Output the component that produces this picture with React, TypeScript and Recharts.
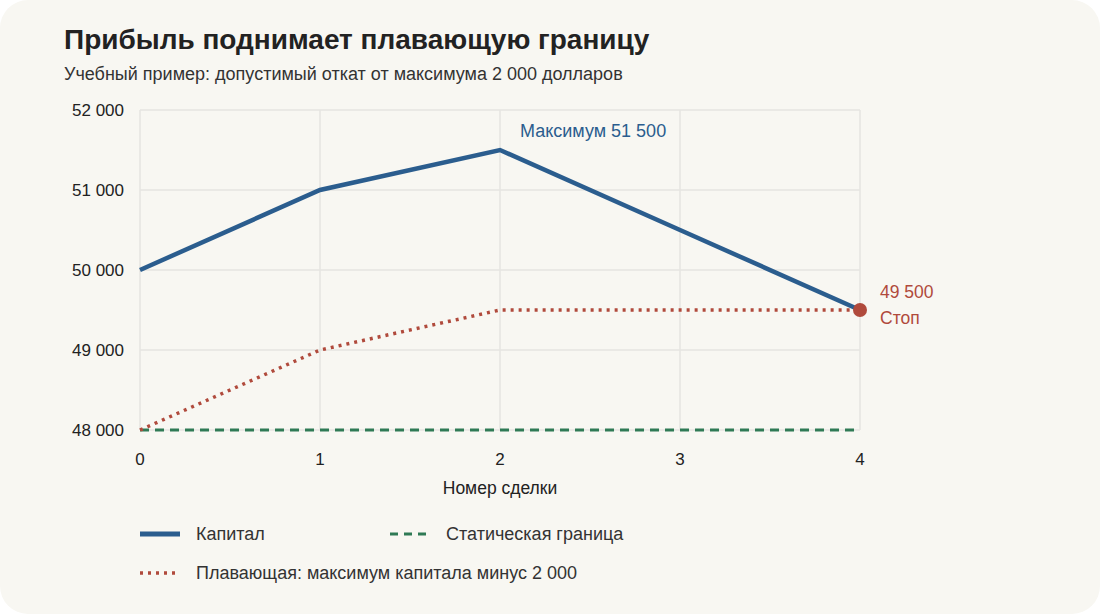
import { LineChart, Line, XAxis, YAxis, CartesianGrid, ReferenceDot } from 'recharts';

const trades = [0, 1, 2, 3, 4];
const capital = [50000, 51000, 51500, 50500, 49500];
const floating = [48000, 49000, 49500, 49500, 49500];
const staticLimit = [48000, 48000, 48000, 48000, 48000];
const yTicks = [48000, 49000, 50000, 51000, 52000];

const BLUE = '#2b5d8e';
const RED = '#b04a3c';
const GREEN = '#2f7a55';
const FONT = '"Liberation Sans", Arial, sans-serif';

const data = trades.map((t, i) => ({
  trade: t,
  capital: capital[i],
  floating: floating[i],
  staticLimit: staticLimit[i],
}));

const fmt = (v: number) => v.toLocaleString('en-US').replace(/,/g, ' ');

const LegendItem = ({ color, dash, width, label }: any) => (
  <div style={{ display: 'flex', alignItems: 'center' }}>
    <svg width={40} height={8} style={{ marginRight: 16 }}>
      <line x1={0} y1={4} x2={40} y2={4} stroke={color} strokeWidth={width} strokeDasharray={dash} />
    </svg>
    <span>{label}</span>
  </div>
);

const App = () => {
  return (
    <div
      style={{
        position: 'absolute',
        left: 0,
        top: 0,
        width: 1100,
        height: 614,
        background: '#ffffff',
        fontFamily: FONT,
      }}
    >
      <div
        style={{
          position: 'absolute',
          left: 0,
          top: 0,
          width: 1100,
          height: 614,
          background: '#f8f7f2',
          borderRadius: 28,
        }}
      />
      <div style={{ position: 'absolute', left: 64, top: 23, fontSize: 28, fontWeight: 700, color: '#222', lineHeight: '34px' }}>
        Прибыль поднимает плавающую границу
      </div>
      <div style={{ position: 'absolute', left: 64, top: 63, fontSize: 18, color: '#333', lineHeight: '22px' }}>
        Учебный пример: допустимый откат от максимума 2 000 долларов
      </div>
      <div style={{ position: 'absolute', left: 0, top: 0 }}>
        <LineChart width={1100} height={614} data={data} margin={{ top: 110, right: 240, bottom: 154, left: 60 }}>
          <CartesianGrid stroke="#e6e5e0" strokeWidth={1.5} />
          <XAxis
            dataKey="trade"
            type="number"
            domain={[0, 4]}
            ticks={trades}
            axisLine={false}
            tickLine={false}
            tickMargin={17}
            height={30}
            tick={{ fill: '#222', fontSize: 17, fontFamily: FONT }}
            label={{ value: 'Номер сделки', position: 'bottom', offset: 22, fill: '#222', fontSize: 17.5, fontFamily: FONT }}
          />
          <YAxis
            type="number"
            domain={[48000, 52000]}
            ticks={yTicks}
            width={80}
            axisLine={false}
            tickLine={false}
            tickMargin={10}
            tickFormatter={fmt}
            tick={{ fill: '#222', fontSize: 17, fontFamily: FONT }}
          />
          <Line
            dataKey="staticLimit"
            stroke={GREEN}
            strokeWidth={3}
            strokeDasharray="9 6"
            dot={false}
            isAnimationActive={false}
          />
          <Line
            dataKey="floating"
            stroke={RED}
            strokeWidth={3.5}
            strokeDasharray="3 5"
            dot={false}
            isAnimationActive={false}
          />
          <Line
            dataKey="capital"
            stroke={BLUE}
            strokeWidth={4.5}
            dot={false}
            isAnimationActive={false}
          />
          <ReferenceDot
            x={2}
            y={51500}
            r={0}
            fill="none"
            stroke="none"
            label={(props: any) => (
              <text x={props.viewBox.x + 20} y={props.viewBox.y - 13} fill={BLUE} fontSize={18} fontFamily={FONT}>
                Максимум 51 500
              </text>
            )}
          />
          <ReferenceDot
            x={4}
            y={49500}
            r={7}
            fill={RED}
            stroke="none"
            label={(props: any) => {
              const cx = props.viewBox.x + props.viewBox.width / 2;
              const cy = props.viewBox.y + props.viewBox.height / 2;
              return (
                <g>
                  <text x={cx + 20} y={cy - 12} fill={RED} fontSize={17.5} fontFamily={FONT}>
                    49 500
                  </text>
                  <text x={cx + 20} y={cy + 14} fill={RED} fontSize={17.5} fontFamily={FONT}>
                    Стоп
                  </text>
                </g>
              );
            }}
          />
        </LineChart>
      </div>
      <div style={{ position: 'absolute', left: 140, top: 523, fontSize: 18, color: '#333', display: 'flex', lineHeight: '22px' }}>
        <div style={{ width: 250 }}>
          <LegendItem color={BLUE} width={5} label="Капитал" />
        </div>
        <LegendItem color={GREEN} width={3} dash="8 6" label="Статическая граница" />
      </div>
      <div style={{ position: 'absolute', left: 140, top: 562, fontSize: 18, color: '#333', lineHeight: '22px' }}>
        <LegendItem color={RED} width={3.5} dash="3 5" label="Плавающая: максимум капитала минус 2 000" />
      </div>
    </div>
  );
};

export default App;
